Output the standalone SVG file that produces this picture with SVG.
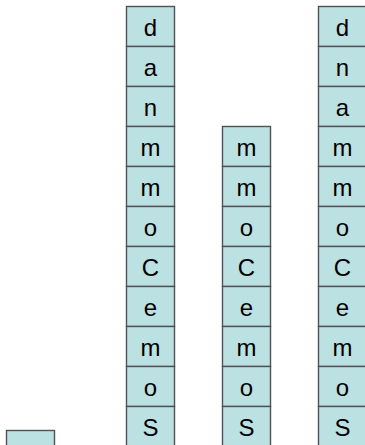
<svg xmlns="http://www.w3.org/2000/svg" width="365" height="445" viewBox="0 0 365 445">
<style>
.c rect{fill:#bce1e3;stroke:#4f5254;stroke-width:1.4}
.c text{font-family:"Liberation Sans",Arial,sans-serif;font-size:24px;fill:#000;text-anchor:middle}
</style>
<rect width="365" height="445" fill="#fff"/>
<g id="cell0" class="c"><rect x="6.5" y="430.5" width="48" height="40"/></g>
<g id="stack1" class="c">
<rect x="126.5" y="6.5" width="48" height="40"/><text x="150.5" y="35.5">d</text>
<rect x="126.5" y="46.5" width="48" height="40"/><text x="150.5" y="75.5">a</text>
<rect x="126.5" y="86.5" width="48" height="40"/><text x="150.5" y="115.5">n</text>
<rect x="126.5" y="126.5" width="48" height="40"/><text x="150.5" y="155.5">m</text>
<rect x="126.5" y="166.5" width="48" height="40"/><text x="150.5" y="195.5">m</text>
<rect x="126.5" y="206.5" width="48" height="40"/><text x="150.5" y="235.5">o</text>
<rect x="126.5" y="246.5" width="48" height="40"/><text x="150.5" y="275.5">C</text>
<rect x="126.5" y="286.5" width="48" height="40"/><text x="150.5" y="315.5">e</text>
<rect x="126.5" y="326.5" width="48" height="40"/><text x="150.5" y="355.5">m</text>
<rect x="126.5" y="366.5" width="48" height="40"/><text x="150.5" y="395.5">o</text>
<rect x="126.5" y="406.5" width="48" height="40"/><text x="150.5" y="435.5">S</text>
</g>
<g id="stack2" class="c">
<rect x="222.5" y="126.5" width="48" height="40"/><text x="246.5" y="155.5">m</text>
<rect x="222.5" y="166.5" width="48" height="40"/><text x="246.5" y="195.5">m</text>
<rect x="222.5" y="206.5" width="48" height="40"/><text x="246.5" y="235.5">o</text>
<rect x="222.5" y="246.5" width="48" height="40"/><text x="246.5" y="275.5">C</text>
<rect x="222.5" y="286.5" width="48" height="40"/><text x="246.5" y="315.5">e</text>
<rect x="222.5" y="326.5" width="48" height="40"/><text x="246.5" y="355.5">m</text>
<rect x="222.5" y="366.5" width="48" height="40"/><text x="246.5" y="395.5">o</text>
<rect x="222.5" y="406.5" width="48" height="40"/><text x="246.5" y="435.5">S</text>
</g>
<g id="stack3" class="c">
<rect x="318.5" y="6.5" width="48" height="40"/><text x="342.5" y="35.5">d</text>
<rect x="318.5" y="46.5" width="48" height="40"/><text x="342.5" y="75.5">n</text>
<rect x="318.5" y="86.5" width="48" height="40"/><text x="342.5" y="115.5">a</text>
<rect x="318.5" y="126.5" width="48" height="40"/><text x="342.5" y="155.5">m</text>
<rect x="318.5" y="166.5" width="48" height="40"/><text x="342.5" y="195.5">m</text>
<rect x="318.5" y="206.5" width="48" height="40"/><text x="342.5" y="235.5">o</text>
<rect x="318.5" y="246.5" width="48" height="40"/><text x="342.5" y="275.5">C</text>
<rect x="318.5" y="286.5" width="48" height="40"/><text x="342.5" y="315.5">e</text>
<rect x="318.5" y="326.5" width="48" height="40"/><text x="342.5" y="355.5">m</text>
<rect x="318.5" y="366.5" width="48" height="40"/><text x="342.5" y="395.5">o</text>
<rect x="318.5" y="406.5" width="48" height="40"/><text x="342.5" y="435.5">S</text>
</g>
</svg>
